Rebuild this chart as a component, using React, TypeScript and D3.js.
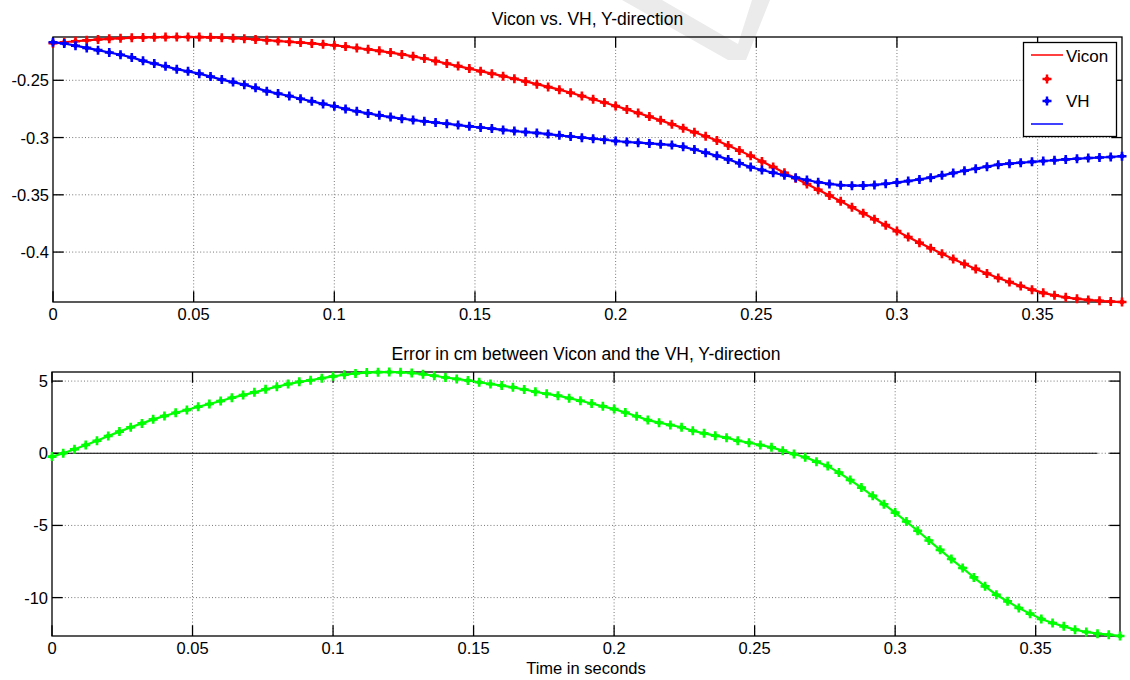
import { useEffect, useRef } from 'react';

import * as d3 from 'd3';

const WIDTH = 1130;
const HEIGHT = 680;
const FONT = 'Liberation Sans, Arial, sans-serif';

const TOP_BOX = { left: 53, right: 1122, top: 37, bottom: 302 };
const BOTTOM_BOX = { left: 52, right: 1120, top: 372, bottom: 636 };
const TICK = 10.7;

// samples every 4 ms
const SAMPLE_DT = 0.004;

const xTicks = [0, 0.05, 0.1, 0.15, 0.2, 0.25, 0.3, 0.35];
const topYTicks = [-0.4, -0.35, -0.3, -0.25];
const bottomYTicks = [-10, -5, 0, 5];

const vicon = [
  -0.2177, -0.2168, -0.2159, -0.2151, -0.2144, -0.2138, -0.2133, -0.2129, -0.2126, -0.2124,
  -0.2123, -0.2122, -0.2122, -0.2123, -0.2125, -0.2128, -0.2132, -0.2137, -0.2143, -0.2150,
  -0.2157, -0.2164, -0.2171, -0.2178, -0.2186, -0.2194, -0.2206, -0.2218, -0.2230, -0.2243,
  -0.2258, -0.2274, -0.2291, -0.2310, -0.2332, -0.2354, -0.2376, -0.2398, -0.2420, -0.2442,
  -0.2464, -0.2486, -0.2510, -0.2534, -0.2558, -0.2582, -0.2609, -0.2637, -0.2665, -0.2694,
  -0.2724, -0.2754, -0.2785, -0.2817, -0.2850, -0.2884, -0.2918, -0.2953, -0.2989, -0.3026,
  -0.3070, -0.3114, -0.3160, -0.3209, -0.3258, -0.3307, -0.3356, -0.3406, -0.3456, -0.3506,
  -0.3557, -0.3609, -0.3661, -0.3713, -0.3765, -0.3817, -0.3868, -0.3918, -0.3967, -0.4015,
  -0.4060, -0.4104, -0.4147, -0.4188, -0.4226, -0.4262, -0.4296, -0.4328, -0.4356, -0.4378,
  -0.4395, -0.4408, -0.4418, -0.4426, -0.4432, -0.4436,
];

const vh = [
  -0.2168, -0.2179, -0.2198, -0.2217, -0.2237, -0.2257, -0.2277, -0.2300, -0.2330, -0.2354,
  -0.2378, -0.2403, -0.2422, -0.2442, -0.2468, -0.2494, -0.2516, -0.2538, -0.2566, -0.2595,
  -0.2616, -0.2637, -0.2661, -0.2684, -0.2706, -0.2727, -0.2750, -0.2771, -0.2789, -0.2806,
  -0.2821, -0.2835, -0.2847, -0.2858, -0.2869, -0.2879, -0.2891, -0.2902, -0.2912, -0.2922,
  -0.2933, -0.2943, -0.2952, -0.2960, -0.2970, -0.2981, -0.2991, -0.3001, -0.3010, -0.3019,
  -0.3030, -0.3039, -0.3045, -0.3051, -0.3058, -0.3066, -0.3081, -0.3104, -0.3132, -0.3160,
  -0.3191, -0.3224, -0.3258, -0.3283, -0.3307, -0.3329, -0.3350, -0.3371, -0.3390, -0.3405,
  -0.3416, -0.3420, -0.3419, -0.3414, -0.3404, -0.3392, -0.3380, -0.3366, -0.3350, -0.3330,
  -0.3310, -0.3290, -0.3272, -0.3254, -0.3237, -0.3228, -0.3220, -0.3212, -0.3205, -0.3198,
  -0.3191, -0.3185, -0.3179, -0.3174, -0.3170, -0.3163,
];

const errorCm = [
  -0.23, 0.00, 0.28, 0.57, 0.87, 1.20, 1.50, 1.80, 2.07, 2.35,
  2.58, 2.81, 3.00, 3.22, 3.41, 3.62, 3.85, 4.03, 4.22, 4.43,
  4.61, 4.79, 4.95, 5.06, 5.20, 5.33, 5.44, 5.53, 5.59, 5.62,
  5.63, 5.61, 5.56, 5.48, 5.37, 5.25, 5.15, 5.04, 4.92, 4.80,
  4.69, 4.57, 4.42, 4.26, 4.12, 3.99, 3.82, 3.64, 3.45, 3.25,
  3.06, 2.82, 2.56, 2.30, 2.12, 1.96, 1.80, 1.56, 1.38, 1.22,
  1.08, 0.87, 0.73, 0.57, 0.41, 0.18, -0.05, -0.28, -0.58, -0.88,
  -1.34, -1.85, -2.38, -2.95, -3.53, -4.11, -4.73, -5.37, -6.04, -6.69,
  -7.33, -7.95, -8.60, -9.22, -9.80, -10.26, -10.72, -11.11, -11.48, -11.76,
  -11.99, -12.22, -12.38, -12.50, -12.57, -12.66,
];

const time = vicon.map((_, i) => +(i * SAMPLE_DT).toFixed(3));

// the black zero reference line in the error plot stops short of the right edge
const zeroLine = [[0, 0], [0.372, 0]];

const MARKER = 'M-4.5,0H4.5M0,-4.5V4.5';
const DIAMOND = 'M0,-3.4L3.4,0L0,3.4L-3.4,0Z';

function App() {
  const svgRef = useRef(null);

  useEffect(() => {
    const svg = d3.select(svgRef.current);
    svg.selectAll('*').remove();

    svg.append('rect').attr('width', WIDTH).attr('height', HEIGHT).attr('fill', '#fff');

    // faint watermark stroke at the top
    svg.append('path')
      .attr('d', 'M622,0 L662,0 L738,44 L752,0 L770,0 L746,60 L728,60 Z')
      .attr('fill', '#ebebeb');

    const panel = (box, yDomain, yTicks, title, titleY) => {
      const x = d3.scaleLinear().domain([0, 0.38]).range([box.left, box.right]);
      const y = d3.scaleLinear().domain(yDomain).range([box.bottom, box.top]);
      const g = svg.append('g');

      // dotted grid
      g.append('g').selectAll('line').data(xTicks.filter((d) => d > 0)).join('line')
        .attr('x1', (d) => x(d)).attr('x2', (d) => x(d))
        .attr('y1', box.top).attr('y2', box.bottom)
        .attr('stroke', '#777').attr('stroke-dasharray', '1,2.2');
      g.append('g').selectAll('line').data(yTicks).join('line')
        .attr('x1', box.left).attr('x2', box.right)
        .attr('y1', (d) => y(d)).attr('y2', (d) => y(d))
        .attr('stroke', '#777').attr('stroke-dasharray', '1,2.2');

      // inward ticks on all four sides
      const ticks = g.append('g').attr('stroke', '#000').attr('stroke-width', 1.3);
      xTicks.forEach((t) => {
        ticks.append('line').attr('x1', x(t)).attr('x2', x(t)).attr('y1', box.bottom).attr('y2', box.bottom - TICK);
        ticks.append('line').attr('x1', x(t)).attr('x2', x(t)).attr('y1', box.top).attr('y2', box.top + TICK);
      });
      yTicks.forEach((t) => {
        ticks.append('line').attr('x1', box.left).attr('x2', box.left + TICK).attr('y1', y(t)).attr('y2', y(t));
        ticks.append('line').attr('x1', box.right).attr('x2', box.right - TICK).attr('y1', y(t)).attr('y2', y(t));
      });

      g.append('rect')
        .attr('x', box.left).attr('y', box.top)
        .attr('width', box.right - box.left).attr('height', box.bottom - box.top)
        .attr('fill', 'none').attr('stroke', '#000').attr('stroke-width', 1.3);

      const labels = g.append('g').attr('font-family', FONT).attr('font-size', 16.5).attr('fill', '#000');
      labels.selectAll('text.x').data(xTicks).join('text')
        .attr('class', 'x')
        .attr('x', (d) => x(d)).attr('y', box.bottom + 18)
        .attr('text-anchor', 'middle')
        .text((d) => String(d));
      labels.selectAll('text.y').data(yTicks).join('text')
        .attr('class', 'y')
        .attr('x', box.left - 4).attr('y', (d) => y(d) + 6)
        .attr('text-anchor', 'end')
        .text((d) => String(d));

      g.append('text')
        .attr('x', (box.left + box.right) / 2).attr('y', titleY)
        .attr('text-anchor', 'middle')
        .attr('font-family', FONT).attr('font-size', 17.5)
        .text(title);

      return { x, y, g };
    };

    const drawSeries = (g, x, y, values, color) => {
      const pts = values.map((v, i) => [time[i], v]);
      g.append('path')
        .datum(pts)
        .attr('fill', 'none')
        .attr('stroke', color)
        .attr('stroke-width', 2.2)
        .attr('d', d3.line().x((d) => x(d[0])).y((d) => y(d[1])));
      const m = g.append('g');
      m.selectAll('path.plus').data(pts).join('path')
        .attr('class', 'plus')
        .attr('transform', (d) => `translate(${x(d[0])},${y(d[1])})`)
        .attr('d', MARKER)
        .attr('stroke', color).attr('stroke-width', 2.6).attr('fill', 'none');
      m.selectAll('path.dia').data(pts).join('path')
        .attr('class', 'dia')
        .attr('transform', (d) => `translate(${x(d[0])},${y(d[1])})`)
        .attr('d', DIAMOND)
        .attr('fill', color);
    };

    // top panel: positions
    const topExtent = d3.extent([...vicon, ...vh]);
    const top = panel(TOP_BOX, topExtent, topYTicks, 'Vicon vs. VH, Y-direction', 25);
    drawSeries(top.g, top.x, top.y, vicon, '#ff0000');
    drawSeries(top.g, top.x, top.y, vh, '#0000ff');

    // bottom panel: error
    const bottom = panel(BOTTOM_BOX, d3.extent(errorCm), bottomYTicks,
      'Error in cm between Vicon and the VH, Y-direction', 360);
    bottom.g.append('path')
      .datum(zeroLine)
      .attr('fill', 'none')
      .attr('stroke', '#000')
      .attr('stroke-width', 1)
      .attr('d', d3.line().x((d) => bottom.x(d[0])).y((d) => bottom.y(d[1])));
    drawSeries(bottom.g, bottom.x, bottom.y, errorCm, '#00ff00');

    svg.append('text')
      .attr('x', (BOTTOM_BOX.left + BOTTOM_BOX.right) / 2).attr('y', 674)
      .attr('text-anchor', 'middle')
      .attr('font-family', FONT).attr('font-size', 16.5)
      .text('Time in seconds');

    // legend (entries as in the original figure)
    const lg = svg.append('g').attr('font-family', FONT).attr('font-size', 17);
    lg.append('rect')
      .attr('x', 1023.5).attr('y', 42.5).attr('width', 93).attr('height', 94)
      .attr('fill', '#fff').attr('stroke', '#000').attr('stroke-width', 1.3);
    lg.append('line').attr('x1', 1031).attr('x2', 1063).attr('y1', 55).attr('y2', 55)
      .attr('stroke', '#ff0000').attr('stroke-width', 1.5);
    lg.append('text').attr('x', 1066).attr('y', 62).text('Vicon');
    [[79, '#ff0000'], [101, '#0000ff']].forEach(([yy, c]) => {
      lg.append('path').attr('transform', `translate(1047,${yy})`).attr('d', MARKER)
        .attr('stroke', c).attr('stroke-width', 2.4).attr('fill', 'none');
      lg.append('path').attr('transform', `translate(1047,${yy})`).attr('d', DIAMOND).attr('fill', c);
    });
    lg.append('text').attr('x', 1066).attr('y', 107).text('VH');
    lg.append('line').attr('x1', 1031).attr('x2', 1063).attr('y1', 124).attr('y2', 124)
      .attr('stroke', '#0000ff').attr('stroke-width', 1.5);
  }, []);

  return (
    <div style={{ position: 'absolute', left: 0, top: 0 }}>
      <svg
        ref={svgRef}
        width={WIDTH}
        height={HEIGHT}
        viewBox={`0 0 ${WIDTH} ${HEIGHT}`}
        style={{ display: 'block' }}
      />
    </div>
  );
}

export default App;
